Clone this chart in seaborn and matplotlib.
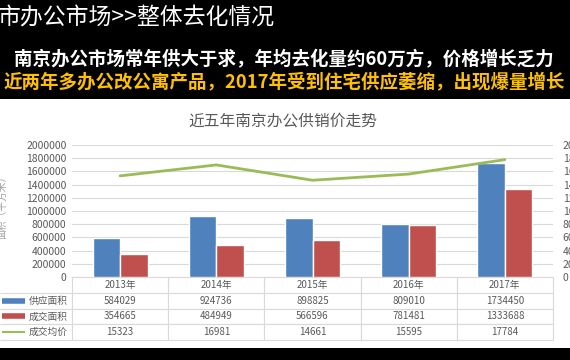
import numpy as np
import pandas as pd
import matplotlib
matplotlib.use("Agg")
import matplotlib.pyplot as plt
import seaborn as sns
from matplotlib.patches import Rectangle
from matplotlib.lines import Line2D

# -------------------------
# data
# -------------------------
years = ["2013年", "2014年", "2015年", "2016年", "2017年"]
supply = [584029, 924736, 898825, 809010, 1734450]
deal = [354665, 484949, 566596, 781481, 1333688]
price = [15323, 16981, 14661, 15595, 17784]
series_names = ["供应面积", "成交面积", "成交均价"]

blue = "#4F81BD"
red = "#C0504D"
green = "#9BBB59"
gray = "#595959"

sns.set_style("white")
plt.rcParams["font.family"] = ["Noto Sans CJK SC", "DejaVu Sans"]

W, H = 570, 360
fig = plt.figure(figsize=(W / 100, H / 100), dpi=100, facecolor="black")

# white slide panel (behind the axes)
fig.patches.append(Rectangle((0, 1 - 348 / H), 1, (348 - 99) / H,
                             transform=fig.transFigure, facecolor="white",
                             edgecolor="none", zorder=-5))

# headings
fig.text(-2 / W, 1 - 18 / H, "市办公市场>>整体去化情况", color="white",
         fontsize=16.5, ha="left", va="center")
fig.text(284 / W, 1 - 60 / H, "南京办公市场常年供大于求，年均去化量约60万方，价格增长乏力",
         color="white", fontsize=13.3, fontweight="bold", ha="center", va="center")
fig.text(284 / W, 1 - 82 / H, "近两年多办公改公寓产品，2017年受到住宅供应萎缩，出现爆量增长",
         color="#FFC000", fontsize=13.3, fontweight="bold", ha="center", va="center")
fig.text(283 / W, 1 - 121 / H, "近五年南京办公供销价走势", color=gray,
         fontsize=11.3, ha="center", va="center")
fig.text(2 / W, 1 - 205 / H, "面积（平方米）", color="#A0A0A0",
         fontsize=7, ha="center", va="center", rotation=90)

# -------------------------
# chart
# -------------------------
x0, x1, ytop, ybot = 72, 553, 145, 277
ax = fig.add_axes([x0 / W, 1 - ybot / H, (x1 - x0) / W, (ybot - ytop) / H])
ax.set_facecolor("none")

df = pd.DataFrame({
    "year": years * 2,
    "value": supply + deal,
    "kind": [series_names[0]] * 5 + [series_names[1]] * 5,
})
sns.barplot(data=df, x="year", y="value", hue="kind", palette=[blue, red],
            width=0.57, gap=0, ax=ax, legend=False, saturation=1, zorder=3)

ax.set_ylim(0, 2000000)
ax.set_yticks(np.arange(0, 2000001, 200000))
ax.ticklabel_format(axis="y", style="plain", useOffset=False)
ax.set_xlim(-0.5, 4.5)
ax.yaxis.grid(True, color="#D9D9D9", lw=0.8, zorder=0)
ax.set_axisbelow(True)
ax.tick_params(axis="y", length=0, labelsize=7.5, labelcolor=gray, pad=4)
ax.set_xticks([])
ax.set_xlabel("")
ax.set_ylabel("")
for s in ["left", "right", "top"]:
    ax.spines[s].set_visible(False)
ax.spines["bottom"].set_color("#D9D9D9")

ax2 = ax.twinx()
sns.lineplot(x=np.arange(len(years)), y=price, ax=ax2, color=green, lw=2)
ax2.set_ylim(0, 20000)
ax2.set_yticks(np.arange(0, 20001, 2000))
ax2.tick_params(axis="y", length=0, labelsize=7.5, labelcolor=gray, pad=7)
for s in ["left", "right", "top", "bottom"]:
    ax2.spines[s].set_visible(False)
ax2.set_ylabel("")

# -------------------------
# data table
# -------------------------
cell_text = [[""] + years]
cell_text.append([series_names[0]] + [str(v) for v in supply])
cell_text.append([series_names[1]] + [str(v) for v in deal])
cell_text.append([series_names[2]] + [str(v) for v in price])

tab_top, tab_bot = 277, 340
pw, ph = x1 - x0, ybot - ytop
tbl = ax.table(cellText=cell_text, cellLoc="center",
               colWidths=[72] + [pw / 5] * 5,
               bbox=[-x0 / pw, -(tab_bot - tab_top) / ph, x1 / pw, (tab_bot - tab_top) / ph])
tbl.auto_set_font_size(False)
tbl.set_fontsize(7)
for (r, c), cell in tbl.get_celld().items():
    cell.set_edgecolor("#D9D9D9")
    cell.set_linewidth(0.8)
    cell.get_text().set_color(gray)
    if r == 0 and c == 0:
        cell.visible_edges = ""
    elif r == 0:
        cell.visible_edges = "LR"
    if c == 0 and r > 0:
        cell.get_text().set_ha("right")
        cell.PAD = 0.06
        cell.visible_edges = "BTR"
        cell._loc = "right"

# legend swatches in the first column
row_h = (tab_bot - tab_top) / 4
for i, (col, lw) in enumerate([(blue, 4), (red, 4), (green, 1.5)]):
    yc = tab_top + row_h * (i + 1.5)
    fig.add_artist(Line2D([2 / W, 25 / W], [1 - yc / H, 1 - yc / H],
                          color=col, lw=lw, solid_capstyle="butt"))

fig.savefig("out.png", dpi=100, facecolor="black")
